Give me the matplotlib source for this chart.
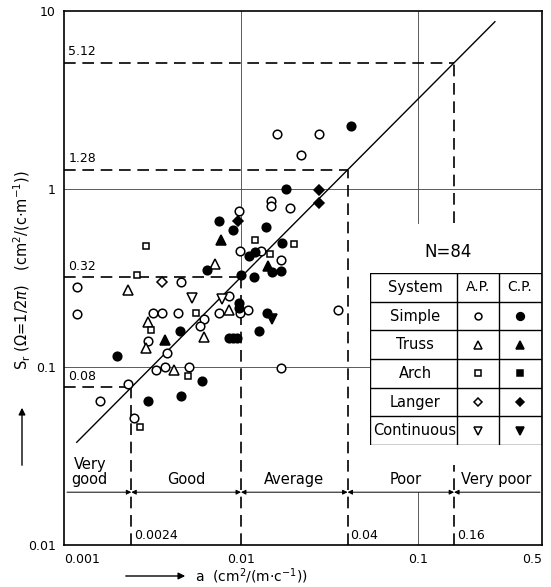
import numpy as np
import matplotlib
matplotlib.use("Agg")
import matplotlib.pyplot as plt

# --- data: a (cm2/(m.c-1)) vs S_r ---
simple_ap_a = [0.0159, 0.0276, 0.0218, 0.0147, 0.0147, 0.0189, 0.0098, 0.0099, 0.0130, 0.0168,
               0.0046, 0.00118, 0.0085, 0.0110, 0.0099, 0.0075, 0.0062, 0.0059, 0.0032, 0.0036,
               0.0044, 0.00118, 0.0355, 0.0030, 0.0038, 0.0033, 0.0037, 0.0051, 0.0168, 0.0023,
               0.0016, 0.0025]
simple_ap_s = [2.05, 2.05, 1.56, 0.86, 0.80, 0.78, 0.75, 0.45, 0.45, 0.40,
               0.30, 0.28, 0.25, 0.21, 0.20, 0.20, 0.186, 0.17, 0.20, 0.20,
               0.20, 0.198, 0.21, 0.14, 0.12, 0.096, 0.10, 0.10, 0.099, 0.080,
               0.064, 0.052]
simple_cp_a = [0.042, 0.0179, 0.0075, 0.0090, 0.0138, 0.0170, 0.0120, 0.0111, 0.0149, 0.0168,
               0.0100, 0.0064, 0.0118, 0.0097, 0.0097, 0.0140, 0.0127, 0.0086, 0.0090, 0.0095,
               0.0045, 0.0020, 0.0060, 0.0030, 0.0046]
simple_cp_s = [2.25, 1.0, 0.66, 0.59, 0.61, 0.50, 0.44, 0.42, 0.34, 0.345,
               0.33, 0.35, 0.32, 0.23, 0.215, 0.20, 0.16, 0.145, 0.145, 0.145,
               0.16, 0.115, 0.083, 0.064, 0.069]
truss_ap_a = [0.0071, 0.0023, 0.0085, 0.0062, 0.0030, 0.0029, 0.0042]
truss_ap_s = [0.38, 0.27, 0.21, 0.148, 0.18, 0.128, 0.096]
truss_cp_a = [0.0077, 0.0143, 0.0037]
truss_cp_s = [0.52, 0.37, 0.141]
arch_ap_a = [0.0029, 0.0026, 0.0120, 0.0200, 0.0145, 0.0056, 0.0031, 0.0050, 0.0027]
arch_ap_s = [0.48, 0.33, 0.52, 0.49, 0.43, 0.20, 0.162, 0.089, 0.046]
arch_cp_a = []
arch_cp_s = []
langer_ap_a = [0.0036]
langer_ap_s = [0.30]
langer_cp_a = [0.0277, 0.0277, 0.0096]
langer_cp_s = [0.99, 0.83, 0.66]
cont_ap_a = [0.0053, 0.0078]
cont_ap_s = [0.245, 0.24]
cont_cp_a = [0.0150]
cont_cp_s = [0.185]

systems = ["Simple", "Truss", "Arch", "Langer", "Continuous"]
markers = ["o", "^", "s", "D", "v"]
sizes = [6.2, 6.8, 4.6, 5.0, 6.8]

# grade boundaries, S_r = 32 a
bounds = [0.0024, 0.01, 0.04, 0.16]
s_labels = ["0.08", "0.32", "1.28", "5.12"]
a_labels = ["0.0024", "0.04", "0.16"]
a_label_pos = [0.0024, 0.04, 0.16]
grades = ["Very\ngood", "Good", "Average", "Poor", "Very poor"]
slope = 32.0

W, H = 551, 587
fig = plt.figure(figsize=(W / 100, H / 100), dpi=100)
ax = fig.add_axes([64 / W, 1 - 545 / H, 477.7 / W, 534 / H])
ax.set_xscale("log")
ax.set_yscale("log")
ax.set_xlim(0.001, 0.5)
ax.set_ylim(0.01, 10)
for s in ax.spines.values():
    s.set_linewidth(1.2)

ax.set_xticks([0.001, 0.01, 0.1, 0.5])
ax.set_xticklabels(["0.001", "0.01", "0.1", "0.5"])
ax.set_yticks([0.01, 0.1, 1, 10])
ax.set_yticklabels(["0.01", "0.1", "1", "10"])
ax.minorticks_off()
ax.tick_params(length=0, labelsize=9, pad=6)
xl = ax.get_xticklabels()
xl[0].set_ha("left")
xl[-1].set_ha("right")

# thin reference lines
gk = dict(color="0.25", lw=0.6, zorder=1)
ax.plot([0.001, 0.5], [1, 1], **gk)
ax.plot([0.001, 0.0536], [0.1, 0.1], **gk)
ax.plot([0.01, 0.01], [0.32, 10], **gk)
ax.plot([0.1, 0.1], [0.64, 10], **gk)
ax.plot([0.1, 0.1], [0.01, 0.0198], **gk)

# dashed boundary lines
dk = dict(color="k", lw=1.2, ls=(0, (7, 4)), zorder=2)
for b, lab in zip(bounds, s_labels):
    sb = slope * b
    ax.plot([0.001, b], [sb, sb], **dk)
    if b == 0.16:
        ax.plot([b, b], [0.64, sb], **dk)
        ax.plot([b, b], [0.01, 0.028], **dk)
    else:
        ax.plot([b, b], [0.01, sb], **dk)
    ax.text(0.00106, sb * 1.06, lab, fontsize=9, va="bottom", ha="left")
for b, lab in zip(a_label_pos, a_labels):
    ax.text(b * 1.04, 0.0113, lab, fontsize=9, va="center", ha="left")

# regression line
la = np.array([0.00118, 0.272])
ax.plot(la, slope * la, color="k", lw=1.0, zorder=3)

# grade arrows
ya = 0.0198
edges = [0.00104] + bounds + [0.49]
for i in range(len(edges) - 1):
    style = "<|-|>"
    if i == 0:
        style = "-|>"
    elif i == len(edges) - 2:
        style = "<|-"
    ax.annotate("", xy=(edges[i + 1], ya), xytext=(edges[i], ya),
                arrowprops=dict(arrowstyle=style, color="k", lw=0.7,
                                mutation_scale=7, shrinkA=0, shrinkB=0))
cen = [0.00140, 0.0049, 0.020, 0.085, 0.275]
for c, g in zip(cen, grades):
    ax.text(c, 0.0213, g, fontsize=10.5, ha="center", va="bottom", linespacing=0.95)

# data points
groups = [
    (simple_ap_a, simple_ap_s, simple_cp_a, simple_cp_s),
    (truss_ap_a, truss_ap_s, truss_cp_a, truss_cp_s),
    (arch_ap_a, arch_ap_s, arch_cp_a, arch_cp_s),
    (langer_ap_a, langer_ap_s, langer_cp_a, langer_cp_s),
    (cont_ap_a, cont_ap_s, cont_cp_a, cont_cp_s),
]
for (aa, sa, ac, sc), m, ms in zip(groups, markers, sizes):
    ax.plot(aa, sa, m, ms=ms, mfc="white", mec="k", mew=1.1, zorder=4)
    if ac:
        ax.plot(ac, sc, m, ms=ms, mfc="k", mec="k", mew=1.1, zorder=5)

ax.text(0.147, 0.44, "N=84", fontsize=12, ha="center", va="center")

# legend table
tab = fig.add_axes([370 / W, 1 - 445 / H, 171.7 / W, 172 / H])
tab.set_xlim(0, 171.7)
tab.set_ylim(172, 0)
tab.axis("off")
tab.patch.set_visible(True)
tab.patch.set_facecolor("white")
cols = [0, 87, 129, 171.7]
rows = np.linspace(0, 172, 7)
for x in cols:
    tab.plot([x, x], [0, 172], color="k", lw=1.0)
for y in rows:
    tab.plot([0, 171.7], [y, y], color="k", lw=1.0)
rc = (rows[:-1] + rows[1:]) / 2
tab.text(45, rc[0], "System", fontsize=10.5, ha="center", va="center")
tab.text(108, rc[0], "A.P.", fontsize=10, ha="center", va="center")
tab.text(150, rc[0], "C.P.", fontsize=10, ha="center", va="center")
for i, (name, m, ms) in enumerate(zip(systems, markers, sizes)):
    tab.text(45, rc[i + 1], name, fontsize=10.5, ha="center", va="center")
    tab.plot(108, rc[i + 1], m, ms=ms * 0.8, mfc="white", mec="k", mew=1.1)
    tab.plot(150, rc[i + 1], m, ms=ms * 0.9, mfc="k", mec="k", mew=1.1)

# axis labels with arrows
fig.text(22 / W, 1 - 270 / H, r"S$_\mathrm{r}$ ($\Omega$=1/2$\pi$)   (cm$^2$/(c$\cdot$m$^{-1}$))",
         rotation=90, ha="center", va="center", fontsize=10.5)
fig.patches.append(matplotlib.patches.FancyArrowPatch(
    (22 / W, 1 - 468 / H), (22 / W, 1 - 405 / H), transform=fig.transFigure,
    arrowstyle="-|>", mutation_scale=10, color="k", lw=1.0))
fig.patches.append(matplotlib.patches.FancyArrowPatch(
    (123 / W, 1 - 576 / H), (188 / W, 1 - 576 / H), transform=fig.transFigure,
    arrowstyle="-|>", mutation_scale=10, color="k", lw=1.0))
fig.text(195 / W, 1 - 576 / H, r"a  (cm$^2$/(m$\cdot$c$^{-1}$))", ha="left", va="center",
         fontsize=10)

fig.savefig("out.png", dpi=100)
